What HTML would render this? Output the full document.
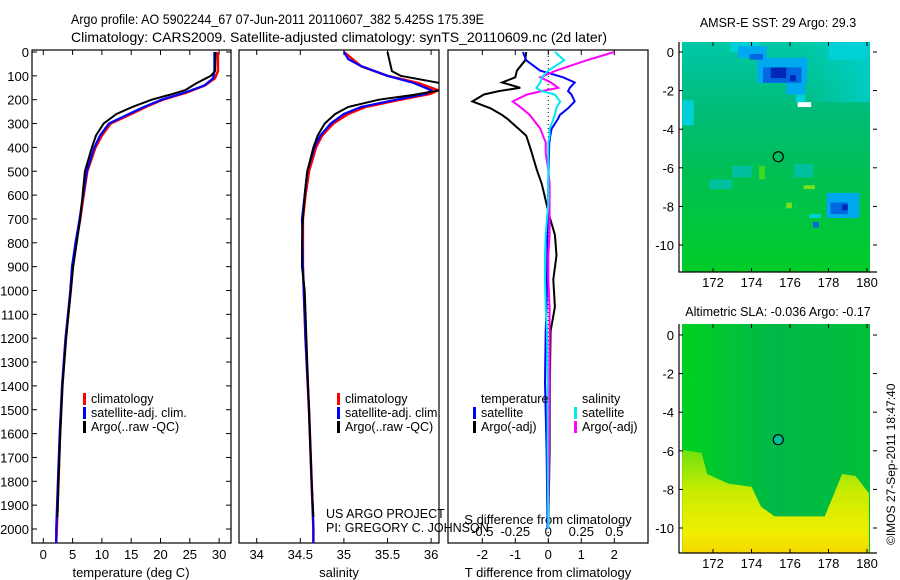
<!DOCTYPE html>
<html><head><meta charset="utf-8">
<style>
html,body{margin:0;padding:0;background:#fff;}
svg{display:block;font-family:"Liberation Sans",sans-serif;}
text{fill:#000;}
</style></head>
<body>
<svg id="chart" width="900" height="580" viewBox="0 0 900 580" xmlns="http://www.w3.org/2000/svg">
<defs>
<linearGradient id="sstGrad" x1="0" y1="0" x2="0" y2="1">
<stop offset="0" stop-color="#00c8a8"/>
<stop offset="0.3" stop-color="#00bc78"/>
<stop offset="0.6" stop-color="#00c050"/>
<stop offset="1" stop-color="#00cc28"/>
</linearGradient>
<linearGradient id="sstRight" x1="0" y1="0" x2="1" y2="0">
<stop offset="0" stop-color="#00d0d0" stop-opacity="0"/>
<stop offset="1" stop-color="#00d0d0" stop-opacity="0.8"/>
</linearGradient>
<linearGradient id="slaGrad" x1="0" y1="0" x2="1" y2="0">
<stop offset="0" stop-color="#00d020"/>
<stop offset="0.5" stop-color="#00b848"/>
<stop offset="1" stop-color="#00c038"/>
</linearGradient>
<linearGradient id="yelGrad" x1="0" y1="0" x2="0" y2="1">
<stop offset="0" stop-color="#70e010"/>
<stop offset="0.4" stop-color="#c8ec00"/>
<stop offset="0.8" stop-color="#f0ee00"/>
<stop offset="1" stop-color="#f4d800"/>
</linearGradient>
<clipPath id="clip1"><rect x="32" y="50" width="199" height="493"/></clipPath>
<clipPath id="clip2"><rect x="239" y="50" width="200" height="493"/></clipPath>
<clipPath id="clip3"><rect x="448" y="50" width="200" height="493"/></clipPath>
</defs>
<g>
<text x="71" y="24" font-size="14" textLength="413" lengthAdjust="spacingAndGlyphs">Argo profile: AO 5902244_67 07-Jun-2011 20110607_382 5.425S 175.39E</text>
<text x="71" y="42" font-size="14" textLength="536" lengthAdjust="spacingAndGlyphs">Climatology: CARS2009. Satellite-adjusted climatology: synTS_20110609.nc (2d later)</text>
</g>
<g id="layer"></g>
<text x="0" y="0" font-size="12" transform="translate(895,545) rotate(-90)">©IMOS 27-Sep-2011 18:47:40</text>
</svg>
<script>
// ---------- data ----------
const depthTicks = [0,100,200,300,400,500,600,700,800,900,1000,1100,1200,1300,1400,1500,1600,1700,1800,1900,2000];
const tempTicks = [0,5,10,15,20,25,30];
const salTicks = [34,34.5,35,35.5,36];
const salTickLabels = ["34","34.5","35","35.5","36"];
const tdiffTicks = [-2,-1,0,1,2];
const sdiffTicks = [-0.5,-0.25,0,0.25,0.5];
const sdiffTickLabels = ["-0.5","-0.25","0","0.25","0.5"];

const depthClim = [0,80,110,140,170,200,230,260,300,350,400,500,600,700,800,900,1000,1200,1400,1600,1800,2000,2059];
const climT = [29.8,29.8,29.3,27.6,24.5,20.4,17.5,15,11.5,10,8.9,7.5,6.9,6.3,5.6,5.0,4.7,3.8,3.2,2.85,2.6,2.3,2.2];
const satT = [29.2,29.2,29.0,27.5,24.2,20.2,17.2,14.6,11.2,9.7,8.7,7.4,6.8,6.2,5.5,4.9,4.6,3.8,3.2,2.8,2.5,2.2,2.2];
const depthArgo = [0,80,100,130,160,180,200,230,260,300,350,400,500,600,700,800,900,1000,1200,1400,1600,1800,1950];
const argoT = [29.4,29.3,28.6,26.2,24.2,21.5,18.5,15.2,12.5,10.3,9.0,8.3,7.1,6.7,6.3,5.7,5.1,4.7,3.9,3.3,2.9,2.6,2.4];

const depthSal = [0,30,60,100,130,160,175,200,230,260,300,350,400,500,600,700,900,1200,1500,1800,2000,2059];
const climS = [35.0,35.1,35.2,35.5,35.85,36.08,36.0,35.65,35.25,35.05,34.88,34.75,34.68,34.6,34.56,34.53,34.53,34.56,34.6,34.63,34.65,34.65];
const satS = [35.0,35.05,35.2,35.5,35.8,36.0,35.95,35.6,35.2,35.0,34.85,34.73,34.66,34.58,34.55,34.52,34.53,34.56,34.6,34.63,34.65,34.65];
const argoS = [35.5,35.55,35.65,36.1,36.1,35.8,35.4,35.05,34.9,34.78,34.7,34.65,34.58,34.55,34.53,34.52,34.52,34.55,34.57,34.59,34.61,34.63,34.65];

const depthDiff = [0,35,78,106,128,150,164,178,207,236,264,279,322,351,379,423,494,552,638,695,767,853,954,1069,1170,1385,1672,2000];
const tdiffSat = [-0.77,-0.67,-0.25,0.45,0.8,0.65,0.6,0.7,0.8,0.6,0.35,0.3,0.1,0.06,0.03,0.02,0.01,0,0,-0.02,-0.03,-0.03,-0.04,-0.05,-0.08,-0.1,-0.05,-0.02];
const tdiffArgo = [-0.67,-0.7,-0.95,-1.0,-1.4,-0.85,-1.5,-1.95,-2.3,-1.75,-1.4,-1.25,-0.9,-0.67,-0.6,-0.5,-0.35,-0.2,-0.05,0.05,0.2,0.25,0.15,0.2,0.07,0.05,0.04,0];
const sdiffSat = [0.05,0.12,0.0,-0.05,-0.06,-0.09,-0.05,0.05,0.09,0.06,0.05,0.04,0.01,0.01,0,0,0,0,0,-0.01,-0.02,-0.025,-0.025,-0.02,-0.01,-0.005,-0.005,0];
const sdiffArgo = [0.5,0.29,0.06,-0.06,0.02,0.075,-0.05,-0.16,-0.27,-0.2,-0.14,-0.12,-0.06,-0.04,-0.02,-0.02,0.0,0.01,0.01,0.01,0.01,0.0,0,0.01,0.01,0.01,0.005,0];

const lonTicks = [172,174,176,178,180];
const latTicks = [0,-2,-4,-6,-8,-10];
const argoLon = 175.39, argoLat = -5.425;
// SST anomaly patches: lon0, lat0, lon1, lat1, colour class
const sstLon0 = [172.9,173.3,174.3,175.8,176.3,178.0,170.4,174.6,173.9,175.0,176.0,177.9,178.1,178.7,177.0,177.2,176.4,174.4,176.7,175.8,176.2,173.0,171.8];
const sstLat0 = [0.5,0.3,-0.3,-1.6,-2.2,0.5,-2.5,-0.8,-0.1,-0.8,-1.2,-7.3,-7.8,-7.9,-8.4,-8.8,-2.6,-5.9,-6.9,-7.8,-5.8,-5.9,-6.6];
const sstLon1 = [174.4,174.8,176.9,176.8,176.8,180.0,171.0,176.6,174.6,175.8,176.3,179.6,179.0,179.0,177.6,177.5,177.1,174.7,177.3,176.1,177.2,174.0,173.0];
const sstLat1 = [0.0,-0.3,-1.6,-2.2,-2.6,-0.4,-3.8,-1.6,-0.4,-1.35,-1.5,-8.6,-8.4,-8.2,-8.6,-9.1,-2.85,-6.6,-7.1,-8.1,-6.5,-6.5,-7.1];
const sstCls = [3,2,2,2,3,3,3,1,1,0,0,2,1,0,3,1,4,5,6,6,7,7,7];
const sstColors = ["#0028b8","#0068e0","#00a8f0","#00d0d8","#ffffff","#40d820","#70e020","#00c0a0"];
// SLA warm (yellow) region boundary
const slaBndLon = [170.4,171.4,171.7,172.8,174.0,174.5,175.2,177.8,178.3,178.7,179.4,180.1,180.1,170.4];
const slaBndLat = [-5.96,-6.1,-7.2,-7.7,-7.86,-8.9,-9.4,-9.4,-8.2,-7.2,-7.3,-8.2,-11.6,-11.6];

// ---------- helpers ----------
const NS = "http://www.w3.org/2000/svg";
const layer = document.getElementById('layer');
function mk(tag, attrs, parent){ const e=document.createElementNS(NS,tag); for(const k in attrs) e.setAttribute(k,attrs[k]); (parent||layer).appendChild(e); return e; }
const yD = d => 52 + d*0.2385;
const xT = t => 43.3 + t*5.86;
const xS = s => 256.7 + (s-34)*87.2;
const xTd = t => 548.3 + t*33;
const xSd = s => 548.3 + s*132;

function frame(x,y,w,h,name){
  const r = mk('rect',{x:x,y:y,width:w,height:h,fill:'none',stroke:'#000','stroke-width':1.2});
  
  
}
function line(xs, ys, fx, color, w, name, clip){
  let d='';
  for(let i=0;i<xs.length;i++){ d += (i?'L':'M') + fx(xs[i]).toFixed(1) + ',' + yD(ys[i]).toFixed(1); }
  const p = mk('path',{d:d,fill:'none',stroke:color,'stroke-width':w,'clip-path':'url(#'+clip+')'});
  
  
}
function txt(x,y,s,size,anchor,name){
  const t = mk('text',{x:x,y:y,'font-size':size,'text-anchor':anchor||'start'});
  t.textContent = s;
  
  
  return t;
}
function xticks(vals, labels, fx, top, bot, name, labelY){
  vals.forEach((v,i)=>{
    const x = fx(v);
    const a = mk('line',{x1:x,x2:x,y1:bot,y2:bot-5,stroke:'#000'});
    
    
    if(top!==null){
      const b = mk('line',{x1:x,x2:x,y1:top,y2:top+5,stroke:'#000'});
      
      
    }
    if(labels) txt(x, labelY, labels[i], 13, 'middle', name+'-label');
  });
}
function legendItem(bx, y, color, label, name){
  const b = mk('rect',{x:bx,y:y-10,width:3,height:12,fill:color});
  
  
  txt(bx+8, y, label, 12.5, 'start', name);
}

// ---------- panel 1: temperature ----------
frame(32,50,199,493,'temperature-panel');
depthTicks.forEach(d=>{
  const y=yD(d);
  const a = mk('line',{x1:32,x2:37,y1:y,y2:y,stroke:'#000'});
  
  
  const b = mk('line',{x1:231,x2:226,y1:y,y2:y,stroke:'#000'});
  
  
  txt(29, y+5, String(d), 13, 'end', 'depth-tick-label');
});
xticks(tempTicks, tempTicks.map(String), xT, 50, 543, 'temperature-axis', 559);
txt(131, 577, 'temperature (deg C)', 13, 'middle', 'temperature-axis-title');
line(climT, depthClim, xT, '#ff0000', 2.5, 'climatology-temperature', 'clip1');
line(satT, depthClim, xT, '#0000ff', 2.2, 'satellite-temperature', 'clip1');
line(argoT, depthArgo, xT, '#000000', 2, 'argo-temperature', 'clip1');
legendItem(83, 403, '#ff0000', 'climatology', 'legend-climatology');
legendItem(83, 417, '#0000ff', 'satellite-adj. clim.', 'legend-satellite');
legendItem(83, 431, '#000000', 'Argo(..raw -QC)', 'legend-argo');

// ---------- panel 2: salinity ----------
frame(239,50,200,493,'salinity-panel');
xticks(salTicks, salTickLabels, xS, 50, 543, 'salinity-axis', 559);
txt(339, 577, 'salinity', 13, 'middle', 'salinity-axis-title');
line(climS, depthSal, xS, '#ff0000', 2.5, 'climatology-salinity', 'clip2');
line(satS, depthSal, xS, '#0000ff', 2.2, 'satellite-salinity', 'clip2');
line(argoS, depthArgo, xS, '#000000', 2, 'argo-salinity', 'clip2');
legendItem(337, 403, '#ff0000', 'climatology', 'legend-climatology-2');
legendItem(337, 417, '#0000ff', 'satellite-adj. clim.', 'legend-satellite-2');
legendItem(337, 431, '#000000', 'Argo(..raw -QC)', 'legend-argo-2');
txt(326, 518, 'US ARGO PROJECT', 12.5, 'start', 'project-credit');
txt(326, 532, 'PI: GREGORY C. JOHNSON', 12.5, 'start', 'pi-credit');

// ---------- panel 3: differences ----------
frame(448,50,200,493,'difference-panel');
const zl = mk('line',{x1:xTd(0),x2:xTd(0),y1:yD(0),y2:yD(2059),stroke:'#000','stroke-dasharray':'1,3'});


xticks(tdiffTicks, tdiffTicks.map(String), xTd, 50, 543, 'tdiff-axis', 559);
sdiffTicks.forEach((v,i)=> txt(xSd(v), 536, sdiffTickLabels[i], 13, 'middle', 'sdiff-tick-label'));
txt(548, 577, 'T difference from climatology', 13, 'middle', 'tdiff-axis-title');
txt(548, 524, 'S difference from climatology', 13, 'middle', 'sdiff-axis-title');
line(tdiffArgo, depthDiff, xTd, '#000000', 2, 'tdiff-argo', 'clip3');
line(tdiffSat, depthDiff, xTd, '#0000ff', 2, 'tdiff-satellite', 'clip3');
line(sdiffArgo, depthDiff, xSd, '#ff00ff', 2, 'sdiff-argo', 'clip3');
line(sdiffSat, depthDiff, xSd, '#00e8f0', 2, 'sdiff-satellite', 'clip3');
txt(481, 403, 'temperature', 12.5, 'start', 'legend-temperature-heading');
legendItem(473, 417, '#0000ff', 'satellite', 'legend-t-satellite');
legendItem(473, 431, '#000000', 'Argo(-adj)', 'legend-t-argo');
txt(582, 403, 'salinity', 12.5, 'start', 'legend-salinity-heading');
legendItem(574, 417, '#00e8f0', 'satellite', 'legend-s-satellite');
legendItem(574, 431, '#ff00ff', 'Argo(-adj)', 'legend-s-argo');

// ---------- maps ----------
const mxL = lon => 713 + (lon-172)*19.25;
function map(top, bottom, lat0y, name){
  const my = lat => lat0y - lat*19.3;
  return {my:my, top:top, bottom:bottom};
}
function mapAxes(m, name){
  const ax = mk('path',{d:'M679,'+m.top+'V'+m.bottom+'H877',fill:'none',stroke:'#000','stroke-width':1.2});
  
  
  lonTicks.forEach(l=>{
    const x=mxL(l);
    const a=mk('line',{x1:x,x2:x,y1:m.bottom,y2:m.bottom-4,stroke:'#000'});
    
    
    const b=mk('line',{x1:x,x2:x,y1:m.top,y2:m.top+4,stroke:'#000'});
    
    
    txt(x, m.bottom+15, String(l), 13, 'middle', name+'-lon-label');
  });
  latTicks.forEach(l=>{
    const y=m.my(l);
    const a=mk('line',{x1:679,x2:683,y1:y,y2:y,stroke:'#000'});
    
    
    const b=mk('line',{x1:877,x2:873,y1:y,y2:y,stroke:'#000'});
    
    
    txt(674, y+5, String(l), 13, 'end', name+'-lat-label');
  });
}
// SST map
const m1 = map(42, 272, 52, 'sst-map');
const bg1 = mk('rect',{x:682,y:42,width:188,height:230,fill:'url(#sstGrad)'});


const bg1b = mk('rect',{x:800,y:42,width:70,height:60,fill:'url(#sstRight)'});


for(let i=0;i<sstCls.length;i++){
  const x0=mxL(sstLon0[i]), x1=mxL(sstLon1[i]), y0=m1.my(sstLat0[i]), y1=m1.my(sstLat1[i]);
  const top = Math.max(42,Math.min(y0,y1));
  const r = mk('rect',{x:Math.min(x0,x1),y:top,width:Math.abs(x1-x0),height:Math.max(y0,y1)-top,fill:sstColors[sstCls[i]]});
  
  
}
mapAxes(m1,'sst-map');
const c1 = mk('circle',{cx:mxL(argoLon),cy:m1.my(argoLat),r:5,fill:'none',stroke:'#000','stroke-width':1.2});


txt(778, 27, 'AMSR-E SST: 29 Argo: 29.3', 12.5, 'middle', 'sst-map-title');

// SLA map
const m2 = map(324, 553, 335, 'sla-map');
const bg2 = mk('rect',{x:682,y:324,width:188,height:229,fill:'url(#slaGrad)'});


let pd='';
for(let i=0;i<slaBndLon.length;i++){ pd += (i?'L':'M') + Math.min(870,Math.max(682,mxL(slaBndLon[i]))).toFixed(1) + ',' + Math.min(553,m2.my(slaBndLat[i])).toFixed(1); }
const warm = mk('path',{d:pd+'Z',fill:'url(#yelGrad)'});


mapAxes(m2,'sla-map');
const c2 = mk('circle',{cx:mxL(argoLon),cy:m2.my(argoLat),r:5,fill:'#00c098',stroke:'#000','stroke-width':1.2});


txt(778, 316, 'Altimetric SLA: -0.036 Argo: -0.17', 12.5, 'middle', 'sla-map-title');
</script>
</body></html>
